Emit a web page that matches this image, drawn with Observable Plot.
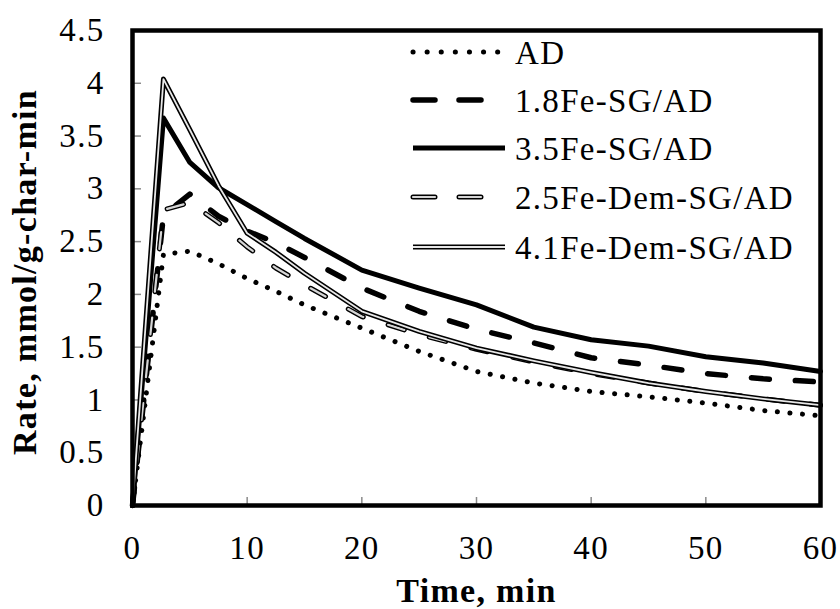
<!DOCTYPE html>
<html>
<head>
<meta charset="utf-8">
<script src="https://cdn.jsdelivr.net/npm/d3@7"></script>
<script src="https://cdn.jsdelivr.net/npm/@observablehq/plot@0.6"></script>
<style>
  html, body { margin: 0; padding: 0; background: white; }
  #wrap { position: relative; width: 840px; height: 609px; }
  #legend { position: absolute; left: 0; top: 0; pointer-events: none; }
  #wrap svg text { letter-spacing: 1.3px; }
</style>
</head>
<body>
<div id="wrap"></div>
<script>
// ---- data ----
const time = [0, 2.7, 5, 7.5, 10, 12.5, 15, 20, 25, 30, 35, 40, 45, 50, 55, 60];
const AD        = [0, 2.38, 2.41, 2.29, 2.15, 2.03, 1.90, 1.68, 1.46, 1.27, 1.16, 1.08, 1.03, 0.97, 0.90, 0.85];
const Fe18SG    = [0, 2.75, 2.95, 2.74, 2.60, 2.49, 2.35, 2.06, 1.84, 1.67, 1.54, 1.40, 1.33, 1.25, 1.20, 1.17];
const Fe35SG    = [0, 3.67, 3.25, 3.01, 2.85, 2.69, 2.53, 2.23, 2.06, 1.90, 1.69, 1.57, 1.51, 1.41, 1.35, 1.27];
const Fe25DemSG = [0, 2.80, 2.87, 2.68, 2.45, 2.25, 2.09, 1.79, 1.62, 1.48, 1.36, 1.25, 1.16, 1.08, 1.01, 0.95];
const Fe41DemSG = [0, 4.04, 3.56, 3.03, 2.58, 2.40, 2.20, 1.84, 1.65, 1.49, 1.37, 1.26, 1.16, 1.08, 1.01, 0.95];
const seriesNames = ["AD", "1.8Fe-SG/AD", "3.5Fe-SG/AD", "2.5Fe-Dem-SG/AD", "4.1Fe-Dem-SG/AD"];
const xTicks = [0, 10, 20, 30, 40, 50, 60];
const yTicks = [0, 0.5, 1, 1.5, 2, 2.5, 3, 3.5, 4, 4.5];
const xTitle = "Time, min";
const yTitle = "Rate, mmol/g-char-min";

// ---- styles ----
const FONT = "'Liberation Serif', 'Times New Roman', serif";
const W = 840, H = 609, mL = 132, mR = 20, mT = 30, mB = 104;
const plotW = W - mL - mR, plotH = H - mT - mB;
const rows = vals => time.map((t, i) => ({t, v: vals[i]}));
const curve = "linear";

// layered stroke styles per series (first = bottom layer)
const styles = [
  [{stroke: "black", strokeWidth: 5, strokeDasharray: "0.1 12.5", strokeLinecap: "round"}],
  [{stroke: "black", strokeWidth: 5.5, strokeDasharray: "18 26", strokeLinecap: "round"}],
  [{stroke: "black", strokeWidth: 5, strokeLinejoin: "round"}],
  [{stroke: "black", strokeWidth: 5, strokeDasharray: "17 26", strokeLinecap: "round"},
   {stroke: "#d6d6d6", strokeWidth: 2.2, strokeDasharray: "17 26", strokeLinecap: "round"}],
  [{stroke: "black", strokeWidth: 5, strokeLinejoin: "round"},
   {stroke: "#e8e8e8", strokeWidth: 1.8, strokeLinejoin: "round"}]
];
const seriesVals = [AD, Fe18SG, Fe35SG, Fe25DemSG, Fe41DemSG];

const lineMarks = [];
seriesVals.forEach((vals, i) => {
  styles[i].forEach(s => {
    lineMarks.push(Plot.line(rows(vals), {x: "t", y: "v", curve, ...s}));
  });
});

const chart = Plot.plot({
  width: W, height: H,
  marginLeft: mL, marginRight: mR, marginTop: mT, marginBottom: mB,
  style: {fontFamily: FONT, fontSize: "33px", color: "black", background: "white"},
  x: {domain: [0, 60]},
  y: {domain: [0, 4.5]},
  marks: [
    // inward gray ticks
    Plot.tickX(xTicks.slice(1, -1), {x: d => d, stroke: "#8a8a8a", strokeWidth: 1.5, insetTop: plotH - 8}),
    Plot.tickY(yTicks.slice(1, -1), {y: d => d, stroke: "#8a8a8a", strokeWidth: 1.5, insetRight: plotW - 9}),
    ...lineMarks,
    Plot.frame({stroke: "black", strokeWidth: 4.5}),
    Plot.axisX({ticks: xTicks, tickSize: 0, tickPadding: 30, label: null, fontSize: 33, tickFormat: d => String(d)}),
    Plot.axisY({ticks: yTicks, tickSize: 0, tickPadding: 28, label: null, fontSize: 33, tickFormat: d => String(d)}),
    Plot.text([xTitle], {text: d => d, frameAnchor: "bottom", dy: 96, lineAnchor: "bottom",
      textAnchor: "middle", fontWeight: "bold", fontSize: 34}),
    Plot.text([yTitle], {text: d => d, frameAnchor: "left", rotate: -90, dx: -107, dy: 4,
      textAnchor: "middle", lineAnchor: "middle", fontWeight: "bold", fontSize: 34})
  ]
});
document.getElementById("wrap").appendChild(chart);

// ---- legend (overlay inside the plot frame, top right) ----
const lg = d3.select("#wrap").append("svg")
  .attr("id", "legend").attr("width", W).attr("height", H);
const rowY = [52, 100, 148, 197, 247];
seriesNames.forEach((name, i) => {
  const g = lg.append("g");
  styles[i].forEach(s => {
    const ln = g.append("line")
      .attr("x1", 413).attr("x2", 505).attr("y1", rowY[i]).attr("y2", rowY[i])
      .attr("stroke", s.stroke).attr("stroke-width", s.strokeWidth)
      .attr("fill", "none");
    if (s.strokeDasharray) ln.attr("stroke-dasharray", s.strokeDasharray === "0.1 12.5" ? "0.1 14" : "22 24");
    if (s.strokeLinecap) ln.attr("stroke-linecap", s.strokeLinecap);
  });
  g.append("text")
    .attr("x", 515).attr("y", rowY[i]).attr("dy", "0.35em")
    .attr("font-family", FONT).attr("font-size", 33).attr("fill", "black")
    .text(name);
});
</script>
</body>
</html>
